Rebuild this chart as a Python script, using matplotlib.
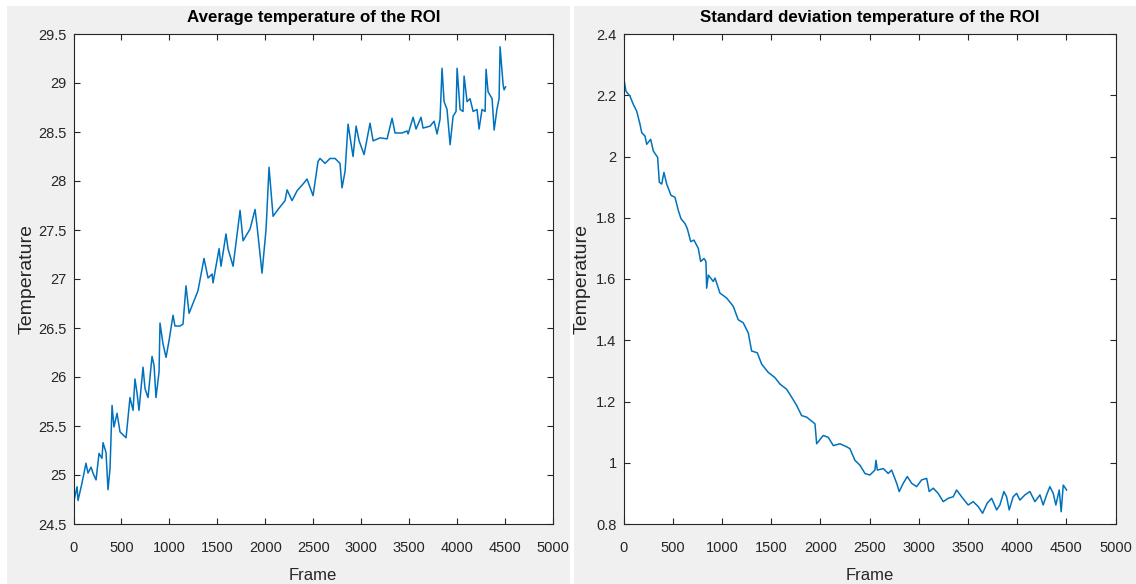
import matplotlib
matplotlib.use("Agg")
import matplotlib.pyplot as plt
from matplotlib.patches import Rectangle

# Average temperature of the ROI
avg_frame = [1, 37, 47, 89, 130, 151, 183, 203, 235, 266, 297, 308, 339, 360, 381, 402,
             422, 454, 485, 548, 589, 621, 641, 662, 683, 725, 746, 777, 819, 840, 860,
             892, 902, 933, 965, 996, 1038, 1058, 1111, 1142, 1173, 1205, 1298, 1361,
             1403, 1445, 1455, 1518, 1538, 1590, 1611, 1664, 1737, 1768, 1841, 1893,
             1914, 1966, 2008, 2039, 2081, 2133, 2206, 2227, 2279, 2331, 2394, 2435,
             2498, 2550, 2571, 2623, 2675, 2727, 2779, 2800, 2832, 2863, 2915, 2947,
             2978, 3030, 3092, 3124, 3197, 3270, 3322, 3353, 3426, 3478, 3489, 3541,
             3572, 3624, 3645, 3718, 3760, 3791, 3822, 3843, 3864, 3895, 3927, 3958,
             3989, 4000, 4031, 4062, 4073, 4104, 4135, 4167, 4208, 4229, 4260, 4292,
             4302, 4323, 4365, 4386, 4417, 4438, 4448, 4480, 4490, 4505]
avg_temp = [24.72, 24.88, 24.74, 24.92, 25.12, 25.02, 25.08, 25.02, 24.95, 25.22, 25.17,
            25.33, 25.23, 24.85, 25.07, 25.71, 25.49, 25.63, 25.44, 25.38, 25.79, 25.66,
            25.98, 25.84, 25.66, 26.10, 25.88, 25.79, 26.21, 26.12, 25.79, 26.05, 26.55,
            26.34, 26.20, 26.37, 26.63, 26.52, 26.52, 26.54, 26.93, 26.65, 26.88, 27.21,
            27.01, 27.05, 26.96, 27.31, 27.13, 27.46, 27.31, 27.13, 27.70, 27.39, 27.51,
            27.71, 27.54, 27.06, 27.51, 28.14, 27.64, 27.71, 27.80, 27.91, 27.80, 27.90,
            27.97, 28.02, 27.85, 28.20, 28.23, 28.18, 28.23, 28.23, 28.18, 27.93, 28.10,
            28.58, 28.25, 28.56, 28.41, 28.27, 28.59, 28.41, 28.44, 28.43, 28.64, 28.49,
            28.49, 28.51, 28.48, 28.65, 28.53, 28.65, 28.54, 28.56, 28.61, 28.48, 28.63,
            29.15, 28.81, 28.73, 28.37, 28.66, 28.71, 29.15, 28.73, 28.71, 29.07, 28.81,
            28.84, 28.71, 28.73, 28.53, 28.73, 28.71, 29.14, 28.91, 28.84, 28.52, 28.74,
            28.84, 29.37, 28.98, 28.93, 28.96]

# Standard deviation temperature of the ROI
std_frame = [0, 25, 66, 100, 134, 168, 185, 218, 236, 276, 303, 347, 364, 388, 411, 439,
             483, 523, 557, 584, 625, 648, 683, 716, 760, 784, 818, 838, 845, 862, 912,
             930, 980, 1048, 1115, 1166, 1217, 1268, 1302, 1360, 1404, 1471, 1539, 1590,
             1658, 1709, 1760, 1810, 1861, 1946, 1963, 2030, 2081, 2132, 2200, 2268,
             2301, 2352, 2403, 2454, 2504, 2555, 2566, 2580, 2640, 2690, 2725, 2776,
             2802, 2843, 2884, 2928, 2979, 3030, 3081, 3107, 3148, 3198, 3249, 3300,
             3351, 3385, 3436, 3503, 3554, 3605, 3649, 3696, 3741, 3792, 3825, 3866,
             3893, 3920, 3960, 3995, 4029, 4079, 4130, 4181, 4232, 4265, 4300, 4333,
             4367, 4394, 4428, 4448, 4469, 4503]
std_temp = [2.262, 2.213, 2.197, 2.170, 2.148, 2.105, 2.078, 2.067, 2.040, 2.056, 2.018,
            1.997, 1.916, 1.910, 1.948, 1.910, 1.873, 1.867, 1.824, 1.797, 1.781, 1.765,
            1.722, 1.727, 1.700, 1.657, 1.667, 1.657, 1.570, 1.613, 1.592, 1.603, 1.554,
            1.538, 1.511, 1.467, 1.457, 1.424, 1.365, 1.359, 1.322, 1.295, 1.278, 1.257,
            1.240, 1.214, 1.187, 1.154, 1.149, 1.127, 1.062, 1.089, 1.083, 1.056, 1.062,
            1.052, 1.046, 1.008, 0.992, 0.965, 0.960, 0.976, 1.008, 0.976, 0.981, 0.965,
            0.976, 0.933, 0.906, 0.933, 0.955, 0.933, 0.922, 0.944, 0.949, 0.906, 0.917,
            0.900, 0.873, 0.884, 0.889, 0.911, 0.889, 0.862, 0.873, 0.857, 0.835, 0.868,
            0.884, 0.846, 0.862, 0.906, 0.889, 0.846, 0.889, 0.900, 0.878, 0.895, 0.906,
            0.873, 0.895, 0.862, 0.895, 0.922, 0.900, 0.862, 0.911, 0.840, 0.927, 0.911]

x_ticks = [0, 500, 1000, 1500, 2000, 2500, 3000, 3500, 4000, 4500, 5000]
avg_ticks = [24.5, 25, 25.5, 26, 26.5, 27, 27.5, 28, 28.5, 29, 29.5]
std_ticks = [0.8, 1, 1.2, 1.4, 1.6, 1.8, 2, 2.2, 2.4]

plt.rcParams["font.family"] = "Liberation Sans"

line_c = "#0072BD"
txt_c = "#262626"
W, H = 1136, 584

fig = plt.figure(figsize=(W / 100, H / 100), dpi=100, facecolor="white")
# two grey MATLAB figure panels with a thin white seam (behind the axes)
fig.patches.append(Rectangle((7 / W, 0), 563 / W, 578 / H, transform=fig.transFigure,
                             facecolor="#f0f0f0", edgecolor="none", zorder=-10))
fig.patches.append(Rectangle((574 / W, 0), 562 / W, 578 / H, transform=fig.transFigure,
                             facecolor="#f0f0f0", edgecolor="none", zorder=-10))

panels = [
    ([73.5, 553], avg_frame, avg_temp, avg_ticks, "Average temperature of the ROI", 35.5),
    ([623.5, 1115.5], std_frame, std_temp, std_ticks,
     "Standard deviation temperature of the ROI", 591),
]

for (x0, x1), fr, vals, yt, title, ylab_x in panels:
    ax = fig.add_axes([x0 / W, 1 - 524 / H, (x1 - x0) / W, 490 / H])
    ax.set_facecolor("white")
    ax.plot(fr, vals, color=line_c, linewidth=1.1)
    ax.set_xlim(0, 5000)
    ax.set_ylim(yt[0], yt[-1])
    ax.set_xticks(x_ticks)
    ax.set_yticks(yt)
    ax.set_yticklabels([f"{v:g}" for v in yt])
    ax.tick_params(direction="in", top=True, right=True, length=4, width=0.8,
                   color=txt_c, labelcolor=txt_c, labelsize=10.5)
    ax.tick_params(axis="x", pad=12)
    ax.tick_params(axis="y", pad=5)
    for s in ax.spines.values():
        s.set_color(txt_c)
        s.set_linewidth(0.8)
    ax.set_title(title, fontsize=12.2, fontweight="bold", color="black", pad=8.5)
    ax.set_xlabel("Frame", fontsize=12, color=txt_c)
    ax.set_ylabel("Temperature", fontsize=14, color=txt_c)
    ax.xaxis.set_label_coords(0.5, -44 / 490)
    ax.yaxis.set_label_coords((ylab_x - x0) / (x1 - x0), 0.5)

fig.savefig("out.png", dpi=100, facecolor=fig.get_facecolor())
